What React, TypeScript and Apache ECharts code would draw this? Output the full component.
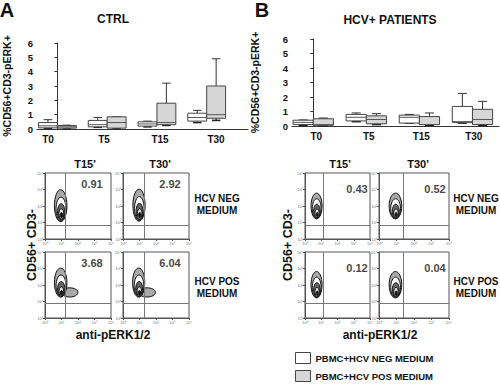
import React, { useEffect, useRef } from 'react';
import * as echarts from 'echarts';

// ---------- data ----------
const timepoints = ['T0', 'T5', 'T15', 'T30'];
// box values: [min, Q1, median, Q3, max]  (%CD56+CD3-pERK+)
const ctrlNegBoxes = [
  [0.05, 0.08, 0.22, 0.45, 0.65],
  [0.12, 0.15, 0.3, 0.6, 0.8],
  [0.15, 0.2, 0.35, 0.5, 0.55],
  [0.45, 0.55, 0.8, 1.1, 1.3],
];
const ctrlPosBoxes = [
  [0.03, 0.06, 0.15, 0.24, 0.27],
  [0.05, 0.06, 0.45, 0.85, 0.85],
  [0.25, 0.3, 0.45, 1.8, 3.2],
  [0.6, 0.75, 1.0, 3.0, 4.9],
];
const hcvNegBoxes = [
  [0.05, 0.1, 0.25, 0.4, 0.42],
  [0.3, 0.35, 0.6, 0.8, 0.9],
  [0.2, 0.2, 0.6, 0.75, 0.8],
  [0.2, 0.25, 0.3, 1.35, 2.25],
];
const hcvPosBoxes = [
  [0.02, 0.05, 0.1, 0.5, 0.55],
  [0.1, 0.15, 0.45, 0.7, 0.85],
  [0.05, 0.1, 0.1, 0.65, 0.9],
  [0.05, 0.1, 0.45, 1.15, 1.7],
];
const seriesNames = ['PBMC+HCV NEG MEDIUM', 'PBMC+HCV POS MEDIUM'];

const flowTimes = ["T15'", "T30'"];
const flowRowLabels = ['HCV NEG\nMEDIUM', 'HCV POS\nMEDIUM'];
const flowDecades = ['10⁰', '10¹', '10²', '10³', '10⁴'];
// upper-right quadrant percentages [row][col]
const ctrlPct = [['0.91', '2.92'], ['3.68', '6.04']];
const hcvPct = [['0.43', '0.52'], ['0.12', '0.04']];
// quadrant gates [x, y] in log decades [row][col]
const ctrlGates = [[[1.2, 0.85], [1.27, 0.85]], [[1.2, 0.92], [1.27, 0.92]]];
const hcvGates = [[[1.1, 0.85], [1.37, 0.85]], [[1.1, 0.91], [1.37, 0.91]]];
// contour levels [cx, cy, rx, ry, level] in log decades [row][col]
const ctrlContours = [
  [
    [[0.95, 2.02, 0.38, 0.97, 0], [0.97, 1.82, 0.3, 0.72, 1], [0.98, 1.64, 0.22, 0.5, 2], [0.99, 1.52, 0.15, 0.32, 3], [1.0, 1.44, 0.08, 0.16, 4]],
    [[0.97, 2.05, 0.37, 0.97, 0], [0.99, 1.85, 0.29, 0.72, 1], [1.0, 1.66, 0.21, 0.5, 2], [1.01, 1.53, 0.14, 0.32, 3], [1.02, 1.45, 0.07, 0.16, 4]],
  ],
  [
    [[1.5, 1.55, 0.5, 0.28, 0], [0.95, 2.15, 0.38, 0.88, 0], [0.97, 1.95, 0.3, 0.66, 1], [0.98, 1.75, 0.22, 0.46, 2], [0.99, 1.6, 0.14, 0.3, 3], [1.0, 1.52, 0.07, 0.15, 4]],
    [[1.45, 1.55, 0.52, 0.28, 0], [0.95, 2.15, 0.37, 0.88, 0], [0.97, 1.95, 0.29, 0.66, 1], [0.98, 1.75, 0.21, 0.46, 2], [0.99, 1.6, 0.14, 0.3, 3], [1.0, 1.52, 0.07, 0.15, 4]],
  ],
];
const hcvContours = [
  [
    [[0.71, 2.0, 0.34, 0.78, 0], [0.72, 1.84, 0.27, 0.6, 1], [0.73, 1.68, 0.2, 0.43, 2], [0.74, 1.56, 0.13, 0.27, 3], [0.75, 1.48, 0.06, 0.13, 4]],
    [[0.94, 2.0, 0.36, 0.78, 0], [0.95, 1.84, 0.28, 0.6, 1], [0.96, 1.68, 0.2, 0.43, 2], [0.97, 1.56, 0.13, 0.27, 3], [0.98, 1.48, 0.06, 0.13, 4]],
  ],
  [
    [[0.71, 2.02, 0.34, 0.8, 0], [0.72, 1.86, 0.27, 0.62, 1], [0.73, 1.7, 0.2, 0.44, 2], [0.74, 1.58, 0.13, 0.28, 3], [0.75, 1.5, 0.06, 0.14, 4]],
    [[0.94, 2.02, 0.36, 0.8, 0], [0.95, 1.86, 0.28, 0.62, 1], [0.96, 1.7, 0.2, 0.44, 2], [0.97, 1.58, 0.13, 0.28, 3], [0.98, 1.5, 0.06, 0.14, 4]],
  ],
];

// ---------- styling / layout ----------
const FONT = "'Liberation Sans', Arial, Helvetica, sans-serif";
const INK = '#111';
const BOX_FILLS = ['#ffffff', '#d6d6d6'];
const LEVEL_FILLS = ['#a8a8a8', '#ffffff', '#666666', '#e2e2e2', '#111111'];

function boxSeries(name: string, data: number[][], offset: number, axisIndex: number, fill: string) {
  return {
    type: 'custom',
    name,
    xAxisIndex: axisIndex,
    yAxisIndex: axisIndex,
    itemStyle: { color: fill, borderColor: '#333', borderWidth: 1 },
    encode: { x: 0, y: [1, 2, 3, 4, 5] },
    data: data.map((d, i) => [i + offset, ...d]),
    renderItem: (params: any, api: any) => {
      const x = api.value(0);
      const pts = [1, 2, 3, 4, 5].map((k) => api.coord([x, api.value(k)]));
      const halfW = api.size([0.19, 0])[0];
      const cx = pts[0][0];
      const capW = halfW * 0.45;
      const st = { stroke: '#333', lineWidth: 1 };
      return {
        type: 'group',
        children: [
          { type: 'line', shape: { x1: cx, y1: pts[3][1], x2: cx, y2: pts[4][1] }, style: st },
          { type: 'line', shape: { x1: cx - capW, y1: pts[4][1], x2: cx + capW, y2: pts[4][1] }, style: st },
          { type: 'line', shape: { x1: cx, y1: pts[1][1], x2: cx, y2: pts[0][1] }, style: st },
          { type: 'line', shape: { x1: cx - capW, y1: pts[0][1], x2: cx + capW, y2: pts[0][1] }, style: { stroke: '#222', lineWidth: 1.6 } },
          {
            type: 'rect',
            shape: { x: cx - halfW, y: pts[3][1], width: halfW * 2, height: Math.max(pts[1][1] - pts[3][1], 1) },
            style: { fill, stroke: '#444', lineWidth: 1 },
          },
          { type: 'line', shape: { x1: cx - halfW, y1: pts[2][1], x2: cx + halfW, y2: pts[2][1] }, style: { stroke: '#555', lineWidth: 1 } },
        ],
      };
    },
  };
}

function buildOption() {
  const grid: any[] = [];
  const xAxis: any[] = [];
  const yAxis: any[] = [];
  const series: any[] = [];
  const graphic: any[] = [];

  const boldText = (text: string, x: number, y: number, size: number, extra: any = {}) => ({
    type: 'text',
    x,
    y,
    rotation: extra.rotation || 0,
    style: {
      text,
      fontFamily: FONT,
      fontWeight: 'bold',
      fontSize: size,
      fill: INK,
      align: extra.align || 'center',
      verticalAlign: extra.verticalAlign || 'middle',
      lineHeight: extra.lineHeight,
    },
  });

  // ----- box plot panels -----
  const boxPanels = [
    { neg: ctrlNegBoxes, pos: ctrlPosBoxes, g: { left: 32, top: 43, width: 216, height: 86 }, lg: { left: 20, top: 43, width: 224, height: 86 }, min: -0.41, max: 3.83, nameGap: 25 },
    { neg: hcvNegBoxes, pos: hcvPosBoxes, g: { left: 292, top: 39, width: 207, height: 87 }, lg: { left: 290, top: 39, width: 220, height: 87 }, min: -0.4, max: 3.5, nameGap: 32 },
  ];
  boxPanels.forEach((p) => {
    const gi = grid.length;
    grid.push({ ...p.g });
    xAxis.push({
      type: 'value', gridIndex: gi, min: p.min, max: p.max,
      axisLine: { show: true, onZero: false, lineStyle: { color: '#333', width: 1 } },
      axisTick: { show: false }, axisLabel: { show: false }, splitLine: { show: false },
    });
    yAxis.push({
      type: 'value', gridIndex: gi, min: 0, max: 6, interval: 1,
      name: '%CD56+CD3-pERK+', nameLocation: 'middle', nameGap: p.nameGap,
      nameTextStyle: { fontFamily: FONT, fontWeight: 'bold', fontSize: 10.5, color: INK },
      axisLine: { show: true, lineStyle: { color: '#333', width: 1 } },
      axisTick: { show: true, length: 3, lineStyle: { color: '#333' } },
      axisLabel: { fontFamily: FONT, fontWeight: 'bold', fontSize: 9.5, color: INK, margin: 4 },
      splitLine: { show: false },
    });
    series.push(boxSeries(seriesNames[0], p.neg, -0.19, gi, BOX_FILLS[0]));
    series.push(boxSeries(seriesNames[1], p.pos, 0.19, gi, BOX_FILLS[1]));
    // category label axis
    const li = grid.length;
    grid.push({ ...p.lg });
    xAxis.push({
      type: 'category', gridIndex: li, data: timepoints, boundaryGap: true,
      axisLine: { show: false }, axisTick: { show: false }, splitLine: { show: false },
      axisLabel: { fontFamily: FONT, fontWeight: 'bold', fontSize: 10, color: INK, margin: 5 },
    });
    yAxis.push({ type: 'value', gridIndex: li, show: false, min: 0, max: 1 });
  });

  // ----- flow panels -----
  const flowPanels = [
    { cols: [[45, 66], [123, 66]], pct: ctrlPct, gates: ctrlGates, contours: ctrlContours, anchor: [2.85, 3.33] },
    { cols: [[305, 65], [379, 70]], pct: hcvPct, gates: hcvGates, contours: hcvContours, anchor: [3.2, 3.03] },
  ];
  const rowTops = [173, 252];
  flowPanels.forEach((p) => {
    rowTops.forEach((top, r) => {
      p.cols.forEach(([left, width], c) => {
        const gi = grid.length;
        grid.push({ left, top, width, height: 66, show: true, borderColor: '#555', borderWidth: 1 });
        const ax = () => ({
          type: 'value', gridIndex: gi, min: 0, max: 4, interval: 1,
          axisLine: { show: true, onZero: false, lineStyle: { color: '#555', width: 1 } },
          axisTick: { show: true, length: 2, lineStyle: { color: '#555' } },
          axisLabel: { show: true, fontSize: 4, color: '#777', margin: 2, fontFamily: FONT, formatter: (v: number) => flowDecades[Math.round(v)] },
          splitLine: { show: false },
        });
        xAxis.push(ax());
        yAxis.push(ax());
        const [gx, gy] = p.gates[r][c];
        series.push({
          type: 'custom',
          xAxisIndex: gi,
          yAxisIndex: gi,
          clip: true,
          silent: true,
          data: p.contours[r][c],
          encode: { x: 0, y: 1 },
          renderItem: (params: any, api: any) => {
            const ctr = api.coord([api.value(0), api.value(1)]);
            const sz = api.size([api.value(2), api.value(3)]);
            return {
              type: 'ellipse',
              shape: { cx: ctr[0], cy: ctr[1], rx: sz[0], ry: sz[1] },
              style: { fill: LEVEL_FILLS[api.value(4)], stroke: '#111', lineWidth: 1 },
            };
          },
          markLine: {
            silent: true,
            symbol: ['none', 'none'],
            label: { show: false },
            lineStyle: { color: '#777', type: 'solid', width: 1 },
            data: [{ xAxis: gx }, { yAxis: gy }],
          },
          z: 3,
        });
        series.push({
          type: 'scatter',
          xAxisIndex: gi,
          yAxisIndex: gi,
          symbolSize: 1,
          itemStyle: { color: 'rgba(0,0,0,0)' },
          data: [[p.anchor[0], p.anchor[1], p.pct[r][c]]],
          label: {
            show: true, position: 'inside', formatter: (prm: any) => prm.value[2],
            fontFamily: FONT, fontWeight: 'bold', fontSize: 11, color: INK,
          },
          z: 5,
        });
      });
    });
  });

  // ----- texts -----
  graphic.push(boldText('A', 7, 10, 20));
  graphic.push(boldText('B', 262, 10, 20));
  graphic.push(boldText('CTRL', 113, 19, 12));
  graphic.push(boldText('HCV+ PATIENTS', 390, 20, 12));
  const flowTitleX = [[85, 160], [340, 418]];
  const rowLabelX = [217, 476];
  const flowYLabelX = [32, 288];
  const xLabelX = [113, 380];
  [0, 1].forEach((pi) => {
    flowTimes.forEach((t, c) => graphic.push(boldText(t, flowTitleX[pi][c], 164, 11)));
    flowRowLabels.forEach((t, r) => graphic.push(boldText(t, rowLabelX[pi], [204, 287][r], 10, { lineHeight: 12 })));
    graphic.push(boldText('CD56+ CD3-', flowYLabelX[pi], 245, 12.5, { rotation: Math.PI / 2 }));
    graphic.push(boldText('anti-pERK1/2', xLabelX[pi], 335, 12));
  });

  const legendBase = {
    orient: 'vertical',
    left: 295,
    padding: 0,
    itemWidth: 15,
    itemHeight: 11,
    icon: 'rect',
    selectedMode: false,
    itemStyle: { borderColor: '#444', borderWidth: 1 },
    textStyle: { fontFamily: FONT, fontWeight: 'bold', fontSize: 9.5, color: INK, padding: [3, 0, 0, 0] },
  };

  return {
    animation: false,
    backgroundColor: '#ffffff',
    textStyle: { fontFamily: FONT },
    grid,
    xAxis,
    yAxis,
    series,
    graphic,
    legend: [
      { ...legendBase, data: [seriesNames[0]], top: 352 },
      { ...legendBase, data: [seriesNames[1]], top: 370 },
    ],
  };
}

export default function App() {
  const ref = useRef<HTMLDivElement>(null);
  useEffect(() => {
    if (!ref.current) return;
    const chart = echarts.init(ref.current, null, { renderer: 'svg' });
    chart.setOption(buildOption() as any);
    return () => chart.dispose();
  }, []);
  return (
    <div
      ref={ref}
      style={{ position: 'fixed', left: 0, top: 0, width: 500, height: 384, background: '#fff' }}
    />
  );
}
